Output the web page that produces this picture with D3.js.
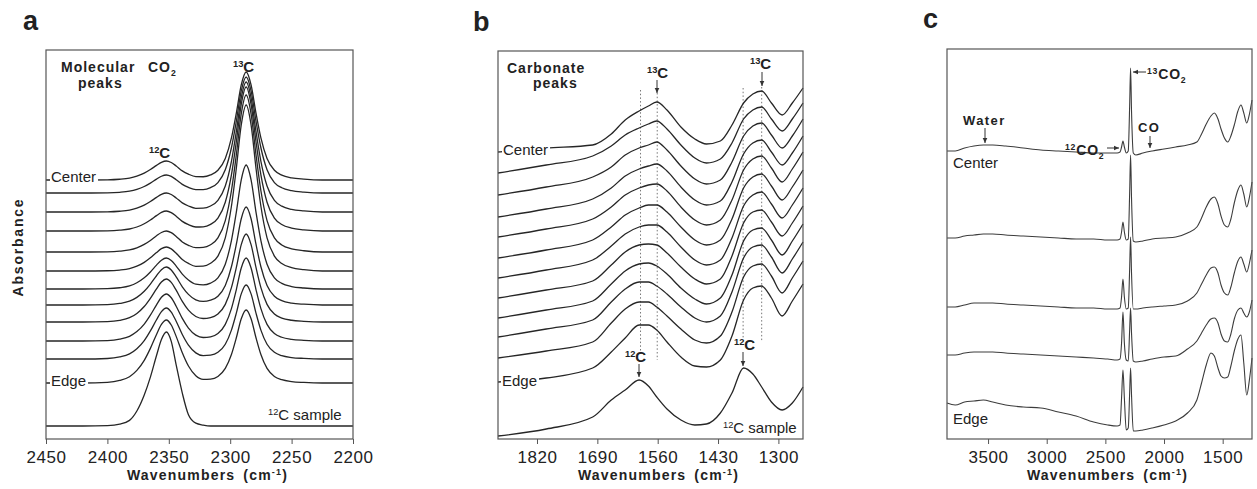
<!DOCTYPE html>
<html>
<head>
<meta charset="utf-8">
<title>CO2 and carbonate peaks</title>
<script src="https://d3js.org/d3.v7.min.js"></script>
<style>
  body { margin: 0; background: #fff; }
  text { font-family: "Liberation Sans", Arial, Helvetica, sans-serif; fill: #222; }
</style>
</head>
<body>
<div id="chart"></div>
<script>

const width = 1257;
const height = 489;

// ---- panel a : molecular CO2 (absorbance in a.u., stacked)
var aWave = [2450, 2420, 2400, 2390, 2382, 2376, 2370, 2365, 2360, 2356, 2352, 2348, 2344, 2339, 2334, 2328, 2322, 2316, 2310, 2304, 2299, 2295, 2291, 2287, 2283, 2279, 2275, 2270, 2264, 2258, 2250, 2240, 2225, 2200];
var a12Shape = [0, 0, 0.01, 0.04, 0.1, 0.2, 0.36, 0.55, 0.77, 0.93, 1, 0.92, 0.74, 0.48, 0.26, 0.1, 0.03, 0.01, 0, 0, 0, 0, 0, 0, 0, 0, 0, 0, 0, 0, 0, 0, 0, 0];
var a13Shape = [0, 0, 0, 0, 0, 0, 0, 0, 0, 0, 0, 0, 0, 0, 0.008, 0.014, 0.025, 0.045, 0.09, 0.2, 0.39, 0.62, 0.88, 1, 0.88, 0.62, 0.39, 0.2, 0.09, 0.045, 0.02, 0.008, 0, 0];
var aSampleShape = [0, 0, 0.005, 0.02, 0.06, 0.16, 0.33, 0.52, 0.75, 0.92, 1, 0.9, 0.65, 0.35, 0.12, 0.03, 0.01, 0, 0, 0, 0, 0, 0, 0, 0, 0, 0, 0, 0, 0, 0, 0, 0, 0];
var aBase = [2.59, 2.46, 2.27, 2.08, 1.87, 1.68, 1.50, 1.34, 1.17, 0.98, 0.80, 0.56];
var a12Height = [0.19, 0.18, 0.19, 0.20, 0.21, 0.24, 0.31, 0.38, 0.43, 0.47, 0.51, 0.63];
var a13Height = [1.08, 1.16, 1.30, 1.44, 1.57, 1.66, 1.24, 0.98, 0.88, 0.83, 0.74, 0.73];
var aSampleBase = 0.13;
var aSampleHeight = 0.94;
var aTicks = [2450, 2400, 2350, 2300, 2250, 2200];

// ---- panel b : carbonate peaks
var bWave = [1904, 1800, 1700, 1660, 1630, 1600, 1580, 1562, 1540, 1510, 1480, 1455, 1425, 1400, 1375, 1355, 1336, 1315, 1292, 1270, 1247];
var bBase = [2.87, 2.66, 2.44, 2.22, 2.02, 1.81, 1.61, 1.41, 1.21, 1.02, 0.81, 0.57];
var bTraces = [
  [0, .04, .07, .18, .32, .41, .46, .50, .42, .25, .13, .08, .11, .27, .49, .58, .61, .49, .37, .49, .64],
  [0, .08, .17, .27, .38, .45, .49, .52, .44, .28, .15, .10, .14, .30, .54, .63, .66, .54, .42, .54, .70],
  [0, .08, .18, .28, .40, .47, .50, .53, .45, .29, .16, .11, .15, .33, .59, .69, .72, .60, .47, .59, .76],
  [0, .08, .18, .29, .41, .48, .51, .53, .46, .30, .17, .12, .16, .35, .63, .74, .77, .65, .52, .64, .81],
  [0, .08, .18, .30, .42, .49, .52, .53, .46, .30, .17, .12, .17, .37, .67, .78, .81, .69, .55, .68, .85],
  [0, .08, .18, .31, .43, .50, .53, .53, .46, .31, .18, .13, .18, .39, .70, .81, .84, .72, .58, .71, .88],
  [0, .08, .18, .32, .44, .51, .53, .53, .46, .31, .18, .13, .18, .40, .72, .83, .86, .74, .60, .73, .90],
  [0, .08, .17, .33, .46, .53, .54, .53, .45, .31, .19, .14, .19, .42, .75, .86, .88, .76, .62, .75, .92],
  [0, .08, .17, .34, .47, .54, .55, .52, .44, .30, .19, .14, .20, .43, .77, .88, .90, .78, .63, .77, .94],
  [0, .08, .17, .35, .48, .55, .55, .51, .43, .30, .19, .15, .21, .45, .79, .90, .92, .80, .64, .78, .95],
  [0, .07, .16, .35, .49, .56, .56, .51, .42, .29, .18, .15, .22, .46, .81, .92, .94, .82, .65, .80, .97],
  [0, .04, .14, .30, .44, .57, .57, .52, .40, .25, .16, .15, .22, .46, .82, .94, .96, .84, .66, .81, .98]
];
var bSample = [0.03, 0.10, 0.22, 0.39, 0.49, 0.59, 0.53, 0.42, 0.30, 0.19, 0.14, 0.15, 0.26, 0.46, 0.71, 0.65, 0.52, 0.37, 0.29, 0.36, 0.52];
var b12C = [1597, 1376];
var b13C = [1561, 1336];
var bTicks = [1820, 1690, 1560, 1430, 1300];

// ---- panel c : full spectra, centre to edge
var cWave = [3850, 3780, 3700, 3620, 3540, 3460, 3350, 3200, 3050, 2900, 2750, 2600, 2480, 2400, 2375, 2362, 2350, 2338, 2322, 2305, 2293, 2285, 2277, 2262, 2240, 2180, 2100, 2000, 1900, 1800, 1720, 1680, 1640, 1600, 1571, 1540, 1514, 1485, 1457, 1430, 1401, 1370, 1344, 1320, 1295, 1270, 1250];
var cBase = [2.88, 2.01, 1.32, 0.84, 0.36];
var cTraces = [
  [0, 0, .03, .05, .06, .06, .05, .03, .01, 0, -.01, -.02, -.02, -.02, -.01, .04, .10, .04, -.02, 0, .45, .83, .40, -.02, -.04, -.02, 0, .02, .04, .06, .09, .17, .27, .35, .38, .32, .22, .13, .09, .15, .26, .40, .46, .38, .28, .38, .51],
  [0, 0, .02, .03, .04, .04, .03, .02, .01, 0, -.01, -.01, -.02, -.02, -.01, .06, .16, .06, -.02, -.01, .45, .83, .40, -.03, -.04, -.03, -.01, 0, .01, .05, .11, .20, .31, .39, .41, .34, .22, .13, .11, .19, .35, .48, .53, .44, .31, .42, .56],
  [0, 0, .02, .04, .04, .04, .03, .02, .01, 0, -.01, -.01, -.02, -.02, -.01, .10, .28, .10, -.02, -.01, .38, .70, .34, -.02, -.02, -.01, 0, .01, .02, .06, .14, .23, .32, .39, .40, .34, .22, .14, .12, .20, .34, .46, .50, .43, .35, .45, .57],
  [0, 0, .02, .03, .03, .03, .02, .01, 0, -.01, -.02, -.03, -.04, -.05, -.04, .12, .43, .12, -.05, -.06, .25, .47, .22, -.06, -.07, -.06, -.04, -.02, -.01, .06, .14, .22, .30, .36, .37, .32, .21, .14, .13, .21, .36, .45, .47, .42, .38, .44, .55],
  [0, -.02, .01, .02, .03, .01, -.02, -.04, -.05, -.09, -.13, -.19, -.22, -.23, -.22, .05, .33, .05, -.27, -.25, .10, .35, .08, -.28, -.28, -.27, -.25, -.22, -.18, -.10, .03, .20, .38, .50, .47, .35, .27, .25, .26, .37, .52, .64, .68, .40, .08, .25, .45]
];
var cTicks = [3500, 3000, 2500, 2000, 1500];


var svg = d3.select("#chart").append("svg").attr("width", width).attr("height", height)
svg.append("rect").attr("width", width).attr("height", height).attr("fill", "#fff")

var y = d3.scaleLinear().domain([0, 3.89]).range([439, 50])
var xa = d3.scaleLinear().domain([2450, 2200]).range([46, 353])
var xb = d3.scaleLinear().domain([1904, 1247]).range([498, 803])
var xc = d3.scaleLinear().domain([3850, 1250]).range([947, 1252])

function lineFor(x) {
  return d3.line().x(d => x(d[0])).y(d => y(d[1])).curve(d3.curveMonotoneX)
}

// panel a traces
var aLine = lineFor(xa)
var aData = aBase.map(function(b, i) {
  return aWave.map((w, j) => [w, b + a12Height[i] * a12Shape[j] + a13Height[i] * a13Shape[j]])
})
aData.push(aWave.map((w, j) => [w, aSampleBase + aSampleHeight * aSampleShape[j]]))

svg.append('g').selectAll('path')
  .data(aData)
  .enter().append('path')
  .attr('d', aLine)
  .attr('fill', 'none').attr('stroke', '#262626').attr('stroke-width', 1.3)

// panel b dotted guides, then traces
var bg = svg.append('g')
b12C.forEach(function(w, i) {
  bg.append('line').attr('x1', xb(w)).attr('x2', xb(w)).attr('y1', i ? 88 : 90).attr('y2', i ? 338 : 352)
    .attr('stroke', '#777').attr('stroke-dasharray', '1.5,2.2')
})
b13C.forEach(function(w, i) {
  bg.append('line').attr('x1', xb(w)).attr('x2', xb(w)).attr('y1', i ? 87 : 93).attr('y2', i ? 342 : 360)
    .attr('stroke', '#777').attr('stroke-dasharray', '1.5,2.2')
})
var bLine = lineFor(xb)
var bData = bBase.map((b, i) => bWave.map((w, j) => [w, b + bTraces[i][j]]))
bData.push(bWave.map((w, j) => [w, bSample[j]]))
bg.selectAll('path.tr')
  .data(bData)
  .enter().append('path')
  .attr('class', 'tr')
  .attr('d', bLine)
  .attr('fill', 'none').attr('stroke', '#262626').attr('stroke-width', 1.3)

// panel c traces
var cLine = lineFor(xc)
var cData = cBase.map((b, i) => cWave.map((w, j) => [w, b + cTraces[i][j]]))
svg.append('g').selectAll('path')
  .data(cData)
  .enter().append('path')
  .attr('d', cLine)
  .attr('fill', 'none').attr('stroke', '#3c3c3c').attr('stroke-width', 1.1)

// frames and axes
frame(xa, 50, aTicks)
frame(xb, 51, bTicks)
frame(xc, 49, cTicks)

// panel letters
svg.append('text').attr('x', 23).attr('y', 30).attr('font-size', 27).attr('font-weight', 'bold').text('a')
svg.append('text').attr('x', 473).attr('y', 31).attr('font-size', 27).attr('font-weight', 'bold').text('b')
svg.append('text').attr('x', 923).attr('y', 28).attr('font-size', 27).attr('font-weight', 'bold').text('c')

svg.append('text').attr('transform', 'translate(23,247) rotate(-90)')
  .attr('text-anchor', 'middle').attr('font-size', 14).attr('font-weight', 'bold')
  .attr('letter-spacing', 1.8).text('Absorbance')

// panel a labels
rich(61, 72, [['Molecular']], 14, true).attr('letter-spacing', 1)
rich(148, 72, [['CO'], ['2', 'sub']], 14, true).attr('letter-spacing', 1)
rich(78, 88, [['peaks']], 14, true).attr('letter-spacing', 1)
rich(149, 158, [['12', 'sup'], ['C']], 15, true)
rich(233, 72, [['13', 'sup'], ['C']], 15, true)
tag(51, 182, 'Center')
tag(51, 386, 'Edge')
rich(268, 420, [['12', 'sup'], ['C sample']], 15, false)

// panel b labels
rich(507, 73, [['Carbonate']], 14, true).attr('letter-spacing', 1)
rich(533, 88, [['peaks']], 14, true).attr('letter-spacing', 1)
rich(647, 78, [['13', 'sup'], ['C']], 15, true)
arrow(657, 80, 657, 93)
rich(750, 69, [['13', 'sup'], ['C']], 15, true)
arrow(762, 72, 762, 86)
rich(625, 362, [['12', 'sup'], ['C']], 15, true)
arrow(639, 364, 639, 377)
rich(734, 350, [['12', 'sup'], ['C']], 15, true)
arrow(743, 352, 743, 366)
tag(503, 155, 'Center')
tag(502, 386, 'Edge')
rich(723, 433, [['12', 'sup'], ['C sample']], 15, false)

// panel c labels
rich(963, 125, [['Water']], 13, true).attr('letter-spacing', 1.4)
arrow(985, 128, 985, 143)
rich(1138, 132, [['CO']], 13, true).attr('letter-spacing', 1.4)
arrow(1150, 136, 1150, 148)
rich(1065, 155, [['12', 'sup'], ['CO'], ['2', 'sub']], 14, true).attr('letter-spacing', 0.8)
arrow(1107, 148, 1119, 148)
rich(1147, 79, [['13', 'sup'], ['CO'], ['2', 'sub']], 14, true).attr('letter-spacing', 0.8)
arrow(1146, 72, 1133, 72)
svg.append('text').attr('x', 953).attr('y', 168).attr('font-size', 15).attr('fill', '#333').text('Center')
svg.append('text').attr('x', 953).attr('y', 424).attr('font-size', 15).attr('fill', '#333').text('Edge')


function frame(x, top, ticks) {
  var r = x.range()
  svg.append('rect').attr('x', r[0]).attr('y', top).attr('width', r[1] - r[0]).attr('height', 439 - top)
    .attr('fill', 'none').attr('stroke', '#555').attr('stroke-width', 1.2)
  var ax = svg.append('g').attr('transform', 'translate(0,439)')
    .call(d3.axisBottom(x).tickValues(ticks).tickSize(5).tickSizeOuter(0).tickPadding(7).tickFormat(d3.format('d')))
  ax.select('.domain').remove()
  ax.attr('font-size', 17)
  ax.selectAll('line').attr('stroke', '#555')
  ax.selectAll('text').attr('fill', '#222').attr('letter-spacing', 0.6)
  var mid = (r[0] + r[1]) / 2 + 8
  var t = svg.append('text').attr('x', mid).attr('y', 480).attr('text-anchor', 'middle')
    .attr('font-size', 14).attr('font-weight', 'bold').attr('letter-spacing', 1.2)
  t.append('tspan').text('Wavenumbers')
  t.append('tspan').attr('dx', 8).text('(cm')
  t.append('tspan').attr('dy', -5).attr('font-size', 9).text('-1')
  t.append('tspan').attr('dy', 5).text(')')
}

function rich(x, yb, parts, size, bold) {
  var t = svg.append('text').attr('x', x).attr('y', yb)
    .attr('font-size', size).attr('font-weight', bold ? 'bold' : 'normal')
  var lift = 0
  parts.forEach(function(p) {
    var kind = p[1] || ''
    var to = kind == 'sup' ? -0.36 * size : kind == 'sub' ? 0.25 * size : 0
    var s = t.append('tspan').attr('dy', to - lift).text(p[0])
    if (kind) s.attr('font-size', size * 0.62)
    lift = to
  })
  return t
}

// label sitting on a trace, with white behind it
function tag(x, yb, str) {
  var t = svg.append('text').attr('x', x).attr('y', yb).attr('font-size', 15).attr('fill', '#333').text(str)
  var bb = t.node().getBBox()
  svg.insert('rect', () => t.node())
    .attr('x', bb.x - 1).attr('y', bb.y + 2).attr('width', bb.width + 3).attr('height', bb.height - 4)
    .attr('fill', '#fff')
}

function arrow(x1, y1, x2, y2) {
  svg.append('line').attr('x1', x1).attr('y1', y1).attr('x2', x2).attr('y2', y2)
    .attr('stroke', '#333').attr('stroke-width', 1)
  var a = Math.atan2(y2 - y1, x2 - x1), L = 5, W = 2.3
  var p = [[x2, y2],
    [x2 - L * Math.cos(a) + W * Math.sin(a), y2 - L * Math.sin(a) - W * Math.cos(a)],
    [x2 - L * Math.cos(a) - W * Math.sin(a), y2 - L * Math.sin(a) + W * Math.cos(a)]]
  svg.append('polygon').attr('points', p.map(q => q.join(',')).join(' ')).attr('fill', '#333')
}

</script>
</body>
</html>
